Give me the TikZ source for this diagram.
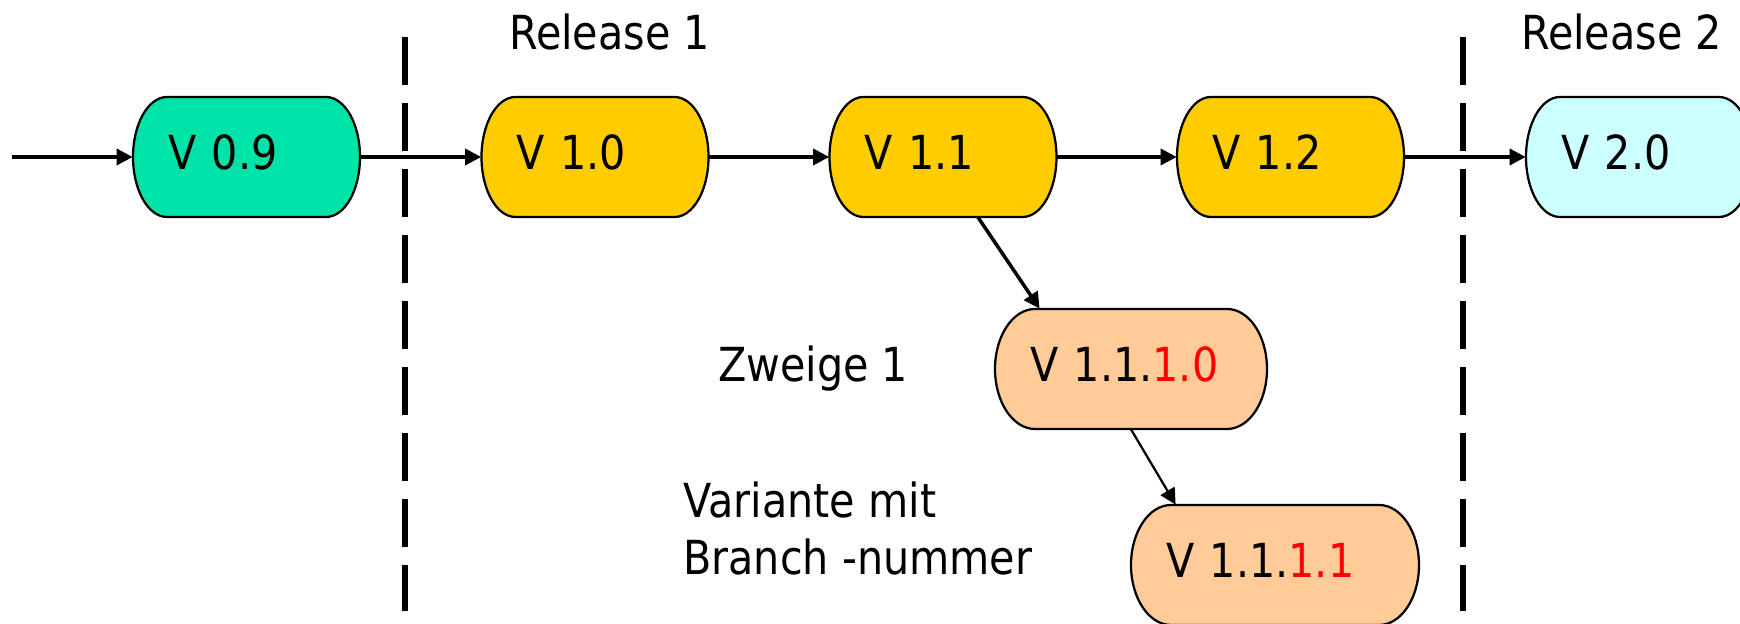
\documentclass[tikz,border=0pt]{standalone}
\usepackage{fontspec}
\setmainfont{DejaVu Sans}[FakeStretch=0.88]
\usepackage{tikz}
\usepackage{xcolor}
\usetikzlibrary{arrows.meta}

\begin{document}
\begin{tikzpicture}[font=\fontsize{26.7pt}{33pt}\selectfont,
  vnode/.style={rectangle,minimum height=2.4cm,inner xsep=0.7cm,inner ysep=0pt,align=left,text height=0.76cm,text depth=0.24cm},
  vline/.style={line width=0.07cm,-{Triangle[length=0.32cm,width=0.32cm]}},
  cut/.style={line width=0.12cm,dash pattern=on 0.96cm off 0.36cm}]
\useasboundingbox (0,0) rectangle (34.8,12.48);
\definecolor{mint}{HTML}{00E3A8}
\definecolor{gold}{HTML}{FFCC00}
\definecolor{ice}{HTML}{CCFFFF}
\definecolor{peach}{HTML}{FFCC99}
\draw[cut] (8.10,11.74) -- (8.10,0.26);
\draw[cut] (29.26,11.74) -- (29.26,0.26);
  \foreach \nm/\x/\y/\w/\tw/\rx/\crlr/\txt in {v09/4.93/9.34/4.54/3.14/0.68/mint/{V 0.9},
    v10/11.90/9.34/4.54/3.14/0.68/gold/{V 1.0},v11/18.86/9.34/4.54/3.14/0.68/gold/{V 1.1},
    v12/25.81/9.34/4.54/3.14/0.68/gold/{V 1.2},v20/32.79/9.34/4.54/3.14/0.68/ice/{V 2.0},
    v1110/22.62/5.10/5.44/4.04/0.8/peach/{V 1.1.\textcolor{red}{1.0}},
    v1111/25.50/1.18/5.76/4.36/0.8/peach/{V 1.1.\textcolor{red}{1.1}}}
  { \draw[line width=0.045cm,fill=\crlr] ({\x-\w/2+\rx},{\y+1.2}) -- ({\x+\w/2-\rx},{\y+1.2})
      arc[start angle=90,end angle=-90,x radius=\rx,y radius=1.2] -- ({\x-\w/2+\rx},{\y-1.2})
      arc[start angle=270,end angle=90,x radius=\rx,y radius=1.2] -- cycle;
    \node [vnode,text width=\tw cm] (\nm) at (\x,\y) {\txt};}
\coordinate (in) at (0.24,9.34);
\draw[vline] (in) -- (v09);
\draw[vline] (v09) -- (v10);
\draw[vline] (v10) -- (v11);
\draw[vline] (v11) -- (v12);
\draw[vline] (v12) -- (v20);
\draw[vline] ([xshift=0.7cm]v11.south) -- ([xshift=0.9cm]v1110.north west);
\draw[vline,line width=0.045cm] (v1110.south) -- ([xshift=0.9cm]v1111.north west);
\node[anchor=base west] (rel1) at (10.06,11.48) {Release 1};
\node[anchor=base west] (rel2) at (30.30,11.48) {Release 2};
\node[anchor=base west] (zweig) at (14.24,4.84) {Zweige 1};
\node[anchor=base west,align=left,inner sep=0pt] (variante) at (13.66,0.98) {Variante mit\\Branch -nummer};
\end{tikzpicture}
\end{document}
